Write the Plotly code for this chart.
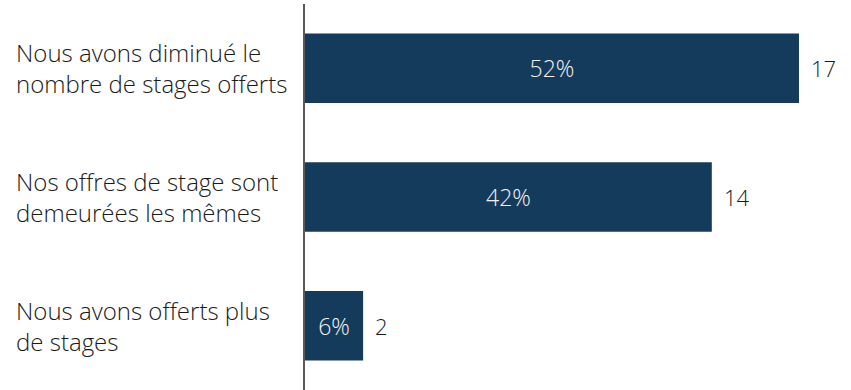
import plotly.graph_objects as go

categories = ["Nous avons diminué le<br>nombre de stages offerts",
              "Nos offres de stage sont<br>demeurées les mêmes",
              "Nous avons offerts plus<br>de stages"]
counts = [17, 14, 2]
percents = ["52%", "42%", "6%"]

bar_color = "#143B5C"
font_family = "Open Sans"

fig = go.Figure()
fig.add_trace(go.Bar(
    y=categories, x=counts, orientation="h",
    marker=dict(color=bar_color, line=dict(width=0)),
    text=percents, textposition="inside", insidetextanchor="middle",
    textfont=dict(color="#F2F2F2", size=23, family=font_family, weight=300),
    width=0.54, hoverinfo="skip",
))

annotations = []
for c, v in zip(categories, counts):
    annotations.append(dict(x=v, y=c, xref="x", yref="y", text=str(v),
                            showarrow=False, xanchor="left", xshift=10,
                            font=dict(size=22, color="#1A1A1A", family=font_family, weight=300)))
    annotations.append(dict(x=-0.533, y=c, xref="paper", yref="y", text=c,
                            showarrow=False, xanchor="left", align="left",
                            font=dict(size=24, color="#1A1A1A", family=font_family, weight=300)))

fig.update_layout(
    width=851, height=390,
    margin=dict(l=305, r=0, t=4, b=0),
    paper_bgcolor="white", plot_bgcolor="white",
    showlegend=False,
    xaxis=dict(range=[0, 18.79], visible=False, fixedrange=True),
    yaxis=dict(autorange=False, range=[2.5, -0.5], showticklabels=False,
               showline=True, linecolor="#595959", linewidth=2,
               showgrid=False, zeroline=False, ticks="", fixedrange=True),
    annotations=annotations,
)

fig.write_html("out.html")
